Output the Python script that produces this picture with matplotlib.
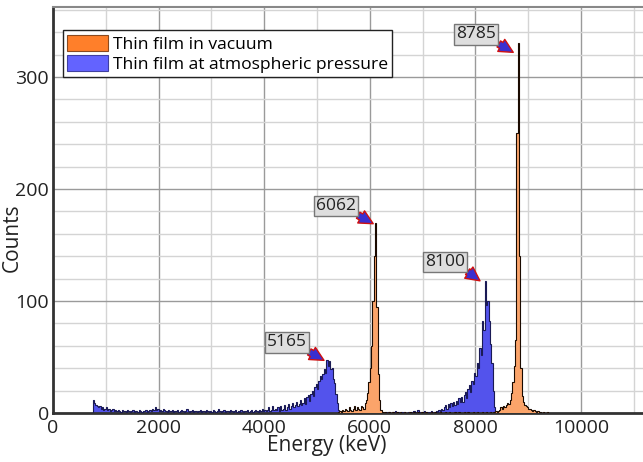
import numpy as np
import matplotlib
matplotlib.use("Agg")
import matplotlib.pyplot as plt
from matplotlib.patches import Patch
from matplotlib.ticker import MultipleLocator

plt.rcParams['font.family'] = ['Open Sans', 'DejaVu Sans']

# ---------------- data ----------------
bin_width = 25  # keV
blue_start = 725   # keV, first bin edge of atmospheric-pressure spectrum
blue_counts = [
    0, 12, 9, 7, 6, 5, 6, 4, 5, 3, 4, 5, 3, 4, 2, 3, 4, 2, 3, 2,
    3, 2, 1, 3, 2, 2, 1, 3, 2, 1, 2, 3, 1, 2, 2, 1, 3, 2, 1, 2,
    2, 3, 1, 2, 3, 2, 4, 3, 5, 3, 4, 2, 3, 2, 4, 3, 2, 1, 3, 2,
    2, 3, 1, 2, 2, 3, 1, 2, 3, 2, 1, 2, 4, 2, 1, 2, 3, 1, 2, 2,
    1, 2, 3, 1, 2, 2, 1, 3, 2, 1, 2, 1, 3, 2, 1, 2, 4, 2, 1, 2,
    3, 1, 2, 2, 1, 3, 2, 1, 2, 3, 1, 2, 1, 3, 2, 1, 2, 2, 3, 1,
    2, 3, 1, 2, 3, 2, 1, 3, 2, 4, 2, 3, 2, 3, 5, 2, 3, 6, 3, 4,
    3, 5, 2, 6, 3, 4, 7, 3, 5, 8, 4, 6, 9, 5, 7, 10, 6, 8, 12, 7,
    9, 13, 8, 14, 16, 11, 17, 20, 15, 23, 26, 21, 29, 33, 30, 35, 39, 36, 47, 42,
    46, 39, 40, 30, 27, 17, 9, 3, 0, 1, 0, 1, 0, 0, 1, 0, 1, 0, 0, 1,
    0, 1, 0, 0, 1, 0, 0, 0, 1, 0, 0, 1, 0, 0, 0, 1, 0, 0, 1, 0,
    1, 0, 0, 1, 0, 1, 0, 0, 1, 0, 2, 0, 1, 0, 0, 1, 0, 1, 0, 0,
    1, 0, 1, 0, 2, 0, 1, 3, 0, 1, 0, 1, 2, 0, 1, 0, 1, 2, 1, 0,
    1, 2, 1, 3, 2, 4, 3, 5, 7, 4, 8, 5, 9, 6, 10, 7, 11, 8, 13, 10,
    14, 10, 16, 19, 13, 21, 25, 19, 29, 26, 36, 33, 45, 40, 58, 52, 82, 74, 118, 96,
    100, 82, 62, 45, 20, 5, 1, 0,
]

orange_start = 5400  # keV, first bin edge of vacuum spectrum
orange_counts = [
    1, 2, 1, 3, 2, 4, 3, 2, 5, 3, 2, 4, 6, 3, 5, 4, 3, 6, 5, 4,
    9, 12, 18, 28, 40, 60, 100, 140, 170, 95, 35, 12, 3, 1, 0, 1, 0, 0, 1, 0,
    0, 1, 0, 0, 1, 0, 0, 1, 0, 0, 1, 0, 0, 0, 1, 0, 0, 1, 0, 0,
    1, 0, 0, 1, 0, 0, 1, 0, 0, 0, 1, 0, 0, 1, 0, 0, 0, 1, 0, 0,
    0, 1, 0, 0, 1, 0, 0, 0, 1, 0, 0, 1, 0, 0, 0, 1, 0, 0, 1, 0,
    0, 0, 1, 0, 0, 1, 0, 0, 0, 1, 0, 0, 1, 0, 0, 1, 0, 1, 1, 2,
    1, 2, 3, 5, 4, 6, 5, 7, 9, 8, 12, 18, 28, 42, 65, 250, 330, 140, 40, 15,
    10, 7, 6, 5, 4, 4, 3, 2, 3, 2, 1, 2, 1, 1, 0, 1, 0, 0, 1, 0,
]

series_labels = ["Thin film in vacuum", "Thin film at atmospheric pressure"]

peak_labels = ["5165", "6062", "8100", "8785"]
peak_tip_x = [5133, 6065, 8087, 8717]
peak_tip_y = [47, 169, 118, 322]
label_x = [4426, 5352, 7424, 8016]
label_y = [63, 185, 135, 338]

x_ticks = [0, 2000, 4000, 6000, 8000, 10000]
y_ticks = [0, 100, 200, 300]

# ---------------- figure ----------------
fig = plt.figure(figsize=(6.43, 4.62), dpi=100)
ax = fig.add_axes([53/643, 49/462, 590/643, 406/462])

blue_edges = blue_start + bin_width * np.arange(len(blue_counts) + 1)
orange_edges = orange_start + bin_width * np.arange(len(orange_counts) + 1)

blue_face = '#5353EC'
blue_edge = '#1A1A55'
orange_face = '#FBA46A'
orange_edge = '#1A0A00'

ax.stairs(blue_counts, blue_edges, fill=True, color=blue_face, lw=0, zorder=2)
ax.stairs(blue_counts, blue_edges, fill=False, color=blue_edge, lw=0.8, zorder=3)
ax.stairs(orange_counts, orange_edges, fill=True, color=orange_face, lw=0, zorder=4)
ax.stairs(orange_counts, orange_edges, fill=False, color=orange_edge, lw=0.8, zorder=5)

ax.set_xlim(0, 11174)
ax.set_ylim(0, 362.5)
ax.set_xticks(x_ticks)
ax.set_yticks(y_ticks)
ax.xaxis.set_minor_locator(MultipleLocator(1000))
ax.yaxis.set_minor_locator(MultipleLocator(20))
ax.set_axisbelow(True)
ax.grid(which='major', color='#9a9a9a', lw=1.0)
ax.grid(which='minor', color='#d4d4d4', lw=1.0)
ax.tick_params(which='both', length=0)
ax.tick_params(axis='x', labelsize=14, pad=4, colors='#222222')
ax.tick_params(axis='y', labelsize=14, pad=3, colors='#222222')

for s in ['left', 'bottom']:
    ax.spines[s].set_color('#333333')
    ax.spines[s].set_linewidth(2)
ax.spines['top'].set_color('#888888')
ax.spines['top'].set_linewidth(1.5)
ax.spines['right'].set_visible(False)

ax.set_xlabel("Energy (keV)", fontsize=15, color='#222222')
ax.set_ylabel("Counts", fontsize=15, color='#222222')
ax.xaxis.set_label_coords(0.464, -0.055)
ax.yaxis.set_label_coords(-0.051, 0.433)

for t, tx, ty, lx, ly in zip(peak_labels, peak_tip_x, peak_tip_y, label_x, label_y):
    ax.annotate(t, xy=(tx, ty), xytext=(lx, ly), ha='center', va='center',
                fontsize=12.5, color='#222222', zorder=10,
                bbox=dict(boxstyle='square,pad=0.12', fc='#DEDEDE', ec='#777777', lw=1),
                arrowprops=dict(arrowstyle='simple,head_length=0.8,head_width=0.8,tail_width=0.4',
                                fc='#3A2FD0', ec='#D01010', lw=1, relpos=(1.0, 0.0),
                                shrinkA=0, shrinkB=0))

handles = [Patch(facecolor='#FF7F2A', edgecolor='#8a4a20', lw=0.8),
           Patch(facecolor='#6363FF', edgecolor='#4040a0', lw=0.8)]
leg = ax.legend(handles, series_labels, loc='upper left', bbox_to_anchor=(0.017, 0.943),
                borderaxespad=0, fontsize=12.6, fancybox=False, framealpha=1,
                edgecolor='#222222', handlelength=2.3, handleheight=1.1,
                handletextpad=0.3, borderpad=0.25, labelspacing=0.1)
leg.get_frame().set_linewidth(1)
leg.set_zorder(20)

fig.savefig("out.png", dpi=100)
